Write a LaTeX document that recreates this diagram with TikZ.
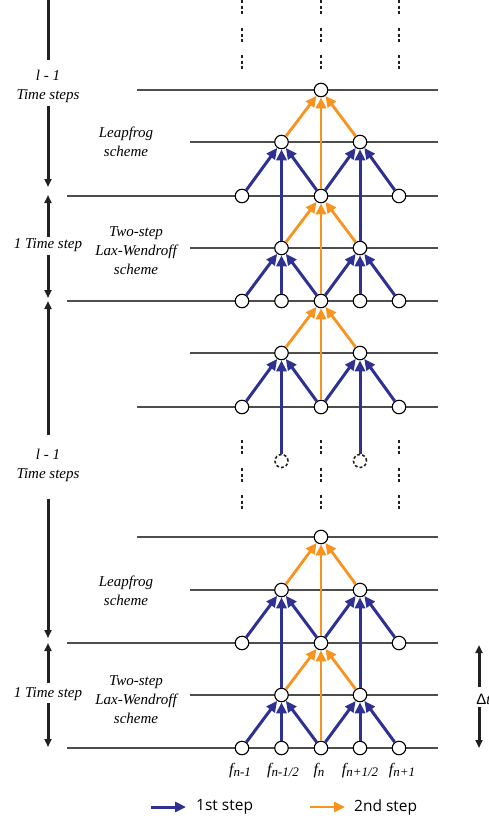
\documentclass[tikz,border=0pt]{standalone}
\usepackage{fontspec}
\setmainfont{Liberation Serif}
\newfontfamily\legendfont{Open Sans}
\newfontfamily\symfont{Liberation Sans}
\usetikzlibrary{arrows.meta}
\definecolor{bl}{HTML}{2E3192}
\definecolor{og}{HTML}{F7931E}
\definecolor{gl}{HTML}{4D4D4D}
\definecolor{tk}{HTML}{231F20}
\tikzset{
  hline/.style={draw=gl, line width=1.3pt},
  pt/.style={circle, draw=black, fill=white, line width=1.1pt, minimum size=13.5pt, inner sep=0pt},
  ghost/.style={circle, draw=tk, dash pattern=on 2.8pt off 2.2pt, line width=1.6pt, minimum size=13pt, inner sep=0pt},
  barr/.style={draw=bl, line width=3pt, -{Triangle[length=11pt,width=10pt]}},
  oarr/.style={draw=og, line width=2.8pt, -{Triangle[length=11pt,width=10pt]}},
  vdash/.style={draw=tk, line width=2.2pt, dash pattern=on 3pt off 2.5pt},
  tline/.style={draw=tk, line width=3pt},
  tarr/.style={draw=tk, line width=3pt, -{Triangle[length=8pt,width=7pt]}},
  lbl/.style={font=\fontsize{15}{19}\selectfont\itshape, align=center, inner sep=0pt},
  flbl/.style={font=\fontsize{16}{16}\selectfont\itshape, inner sep=0pt, anchor=base},
  legtxt/.style={font=\fontsize{15.5}{18}\selectfont\legendfont, inner sep=0pt, anchor=west},
}
\newcommand{\fsub}[1]{f\raisebox{-2pt}{\fontsize{13}{13}\selectfont #1}}
\begin{document}
\begin{tikzpicture}[x=1pt,y=-1pt]
\fill[white] (0,0) rectangle (489,822);
\useasboundingbox (0,0) rectangle (489,822);

% horizontal time levels
\draw[hline] (137,90) -- (438,90);
\draw[hline] (190,142) -- (438,142);
\draw[hline] (67,196) -- (438,196);
\draw[hline] (190,248) -- (438,248);
\draw[hline] (67,301) -- (438,301);
\draw[hline] (190,353) -- (438,353);
\draw[hline] (137,407) -- (438,407);
\draw[hline] (137,537) -- (438,537);
\draw[hline] (190,590) -- (438,590);
\draw[hline] (67,643) -- (438,643);
\draw[hline] (190,695) -- (438,695);
\draw[hline] (67,748) -- (438,748);

% dotted continuation marks
\foreach \x in {242,321,399}{
  \draw[vdash] (\x,0) -- (\x,15);
  \draw[vdash] (\x,28) -- (\x,43);
  \draw[vdash] (\x,55) -- (\x,70);
  \draw[vdash] (\x,440) -- (\x,456);
  \draw[vdash] (\x,468) -- (\x,483);
  \draw[vdash] (\x,495) -- (\x,510);
}

% grid nodes
\node[pt] (A3) at (321,90) {};
\node[pt] (B2) at (281.5,142) {};
\node[pt] (B4) at (360,142) {};
\node[pt] (C1) at (242,196) {};
\node[pt] (C3) at (321,196) {};
\node[pt] (C5) at (399,196) {};
\node[pt] (D2) at (281.5,248) {};
\node[pt] (D4) at (360,248) {};
\node[pt] (E1) at (242,301) {};
\node[pt] (E2) at (281.5,301) {};
\node[pt] (E3) at (321,301) {};
\node[pt] (E4) at (360,301) {};
\node[pt] (E5) at (399,301) {};
\node[pt] (F2) at (281.5,353) {};
\node[pt] (F4) at (360,353) {};
\node[pt] (G1) at (242,407) {};
\node[pt] (G3) at (321,407) {};
\node[pt] (G5) at (399,407) {};
\node[ghost] (X2) at (281.5,461) {};
\node[ghost] (X4) at (360,461) {};
\node[pt] (H3) at (321,537) {};
\node[pt] (I2) at (281.5,590) {};
\node[pt] (I4) at (360,590) {};
\node[pt] (J1) at (242,643) {};
\node[pt] (J3) at (321,643) {};
\node[pt] (J5) at (399,643) {};
\node[pt] (K2) at (281.5,695) {};
\node[pt] (K4) at (360,695) {};
\node[pt] (M1) at (242,748) {};
\node[pt] (M2) at (281.5,748) {};
\node[pt] (M3) at (321,748) {};
\node[pt] (M4) at (360,748) {};
\node[pt] (M5) at (399,748) {};

% top leapfrog
\draw[barr] (C1) -- (B2);
\draw[barr] (C3) -- (B2);
\draw[barr] (D2) -- (B2);
\draw[barr] (C3) -- (B4);
\draw[barr] (C5) -- (B4);
\draw[barr] (D4) -- (B4);
\draw[oarr] (B2) -- (A3);
\draw[oarr] (C3) -- (A3);
\draw[oarr] (B4) -- (A3);
% top Lax-Wendroff
\draw[barr] (E1) -- (D2);
\draw[barr] (E2) -- (D2);
\draw[barr] (E3) -- (D2);
\draw[barr] (E3) -- (D4);
\draw[barr] (E4) -- (D4);
\draw[barr] (E5) -- (D4);
\draw[oarr] (D2) -- (C3);
\draw[oarr] (E3) -- (C3);
\draw[oarr] (D4) -- (C3);
% middle leapfrog
\draw[barr] (G1) -- (F2);
\draw[barr] (G3) -- (F2);
\draw[barr] (X2) -- (F2);
\draw[barr] (G3) -- (F4);
\draw[barr] (G5) -- (F4);
\draw[barr] (X4) -- (F4);
\draw[oarr] (F2) -- (E3);
\draw[oarr] (G3) -- (E3);
\draw[oarr] (F4) -- (E3);
% bottom leapfrog
\draw[barr] (J1) -- (I2);
\draw[barr] (J3) -- (I2);
\draw[barr] (K2) -- (I2);
\draw[barr] (J3) -- (I4);
\draw[barr] (J5) -- (I4);
\draw[barr] (K4) -- (I4);
\draw[oarr] (I2) -- (H3);
\draw[oarr] (J3) -- (H3);
\draw[oarr] (I4) -- (H3);
% bottom Lax-Wendroff
\draw[barr] (M1) -- (K2);
\draw[barr] (M2) -- (K2);
\draw[barr] (M3) -- (K2);
\draw[barr] (M3) -- (K4);
\draw[barr] (M4) -- (K4);
\draw[barr] (M5) -- (K4);
\draw[oarr] (K2) -- (J3);
\draw[oarr] (M3) -- (J3);
\draw[oarr] (K4) -- (J3);

% scheme labels
\node[lbl] (lf1) at (126,142) {Leapfrog\\scheme};
\node[lbl] (lw1) at (136,251) {Two-step\\Lax-Wendroff\\scheme};
\node[lbl] (lf2) at (126,591) {Leapfrog\\scheme};
\node[lbl] (lw2) at (136,700) {Two-step\\Lax-Wendroff\\scheme};

% time-step labels and arrows
\node[lbl] (ts1) at (48,86) {l - 1\\Time steps};
\node[lbl] (ts2) at (48,245) {1 Time step};
\node[lbl] (ts3) at (48,465) {l - 1\\Time steps};
\node[lbl] (ts4) at (48,694) {1 Time step};
\coordinate (p0) at (48,0);   \coordinate (p1) at (48,60);
\coordinate (p2) at (48,106); \coordinate (p3) at (48,187);
\coordinate (p4) at (48,237); \coordinate (p5) at (48,195);
\coordinate (p6) at (48,255); \coordinate (p7) at (48,298);
\coordinate (p8) at (48,435); \coordinate (p9) at (48,301);
\coordinate (p10) at (48,499); \coordinate (p11) at (48,638);
\coordinate (p12) at (48,683); \coordinate (p13) at (48,643);
\coordinate (p14) at (48,703); \coordinate (p15) at (48,747);
\draw[tline] (p0) -- (p1);
\draw[tarr] (p2) -- (p3);
\draw[tarr] (p4) -- (p5);
\draw[tarr] (p6) -- (p7);
\draw[tarr] (p8) -- (p9);
\draw[tarr] (p10) -- (p11);
\draw[tarr] (p12) -- (p13);
\draw[tarr] (p14) -- (p15);

% Delta t
\node[lbl, font=\fontsize{15}{18}\selectfont] (dt) at (483.5,699) {{\symfont Δ}\textit{t}};
\coordinate (q0) at (479,687); \coordinate (q1) at (479,645);
\coordinate (q2) at (479,707); \coordinate (q3) at (479,748);
\draw[tarr] (q0) -- (q1);
\draw[tarr] (q2) -- (q3);

% grid point labels
\node[flbl] (f1) at (240,774) {\fsub{n-1}};
\node[flbl] (f2) at (283,774) {\fsub{n-1/2}};
\node[flbl] (f3) at (319,774) {\fsub{n}};
\node[flbl] (f4) at (360,774) {\fsub{n+1/2}};
\node[flbl] (f5) at (402,774) {\fsub{n+1}};

% legend
\coordinate (lb0) at (151,807); \coordinate (lb1) at (186,807);
\coordinate (lo0) at (310,807); \coordinate (lo1) at (345,807);
\draw[barr] (lb0) -- (lb1);
\draw[oarr] (lo0) -- (lo1);
\node[legtxt] (lg1) at (196,807) {1st step};
\node[legtxt] (lg2) at (354,807) {2nd step};
\end{tikzpicture}
\end{document}
